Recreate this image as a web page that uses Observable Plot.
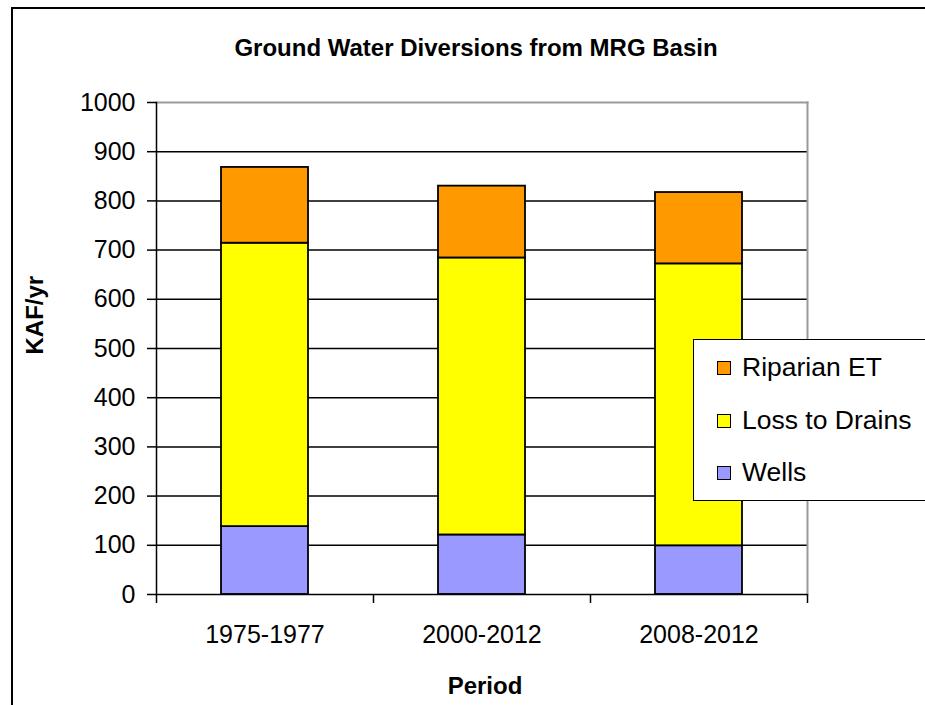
<!DOCTYPE html>
<html><head><meta charset="utf-8">
<script src="https://cdn.jsdelivr.net/npm/d3@7"></script>
<script src="https://cdn.jsdelivr.net/npm/@observablehq/plot@0.6"></script>
<style>
body{margin:0;background:#fff;}
#wrap{position:relative;width:925px;height:705px;overflow:hidden;font-family:"Liberation Sans",Arial,sans-serif;color:#000;}
#frame{position:absolute;left:11px;top:7px;width:1000px;height:1000px;border-left:2px solid #000;border-top:2px solid #000;}
#legend{position:absolute;left:693px;top:339px;width:300px;height:160px;border:1px solid #000;background:#fff;}
.item{position:absolute;left:23px;height:30px;font-size:26.5px;line-height:30px;white-space:nowrap;}
.sw{position:absolute;left:0;top:8px;width:12px;height:12px;border:1.5px solid #000;}
.lab{position:absolute;left:25px;top:-1px;}
#chart{position:absolute;left:0;top:0;}
</style></head><body>
<div id="wrap"><div id="frame"></div><div id="chart"></div><div id="legend"></div></div>
<script>
const periods = ["1975-1977", "2000-2012", "2008-2012"];
const seriesNames = ["Wells", "Loss to Drains", "Riparian ET"];
const wells = [138, 121, 99];
const lossToDrains = [576, 563, 573];
const riparianET = [154, 146, 145];
const yTicks = [0, 100, 200, 300, 400, 500, 600, 700, 800, 900, 1000];
const seriesColors = ["#9999FF", "#FFFF00", "#FF9900"];
const legendOrder = ["Riparian ET", "Loss to Drains", "Wells"];
const titleText = "Ground Water Diversions from MRG Basin";
const yLabel = "KAF/yr";
const xLabel = "Period";

const values = [wells, lossToDrains, riparianET];
const rows = [];
periods.forEach((p, i) => seriesNames.forEach((s, j) => rows.push({period: p, series: s, value: values[j][i]})));

const W = 925, H = 705, mL = 156, mR = 118, mT = 102, mB = 111;
const step = (W - mL - mR) / periods.length;
const plotH = H - mT - mB;

const chart = Plot.plot({
  width: W, height: H,
  marginLeft: mL, marginRight: mR, marginTop: mT, marginBottom: mB,
  style: {fontFamily: "Liberation Sans, Arial, sans-serif", fontSize: "25px", color: "#000", background: "transparent"},
  x: {domain: periods, paddingInner: 0.6, paddingOuter: 0.3, label: null},
  y: {domain: [0, 1000], label: null},
  color: {domain: seriesNames, range: seriesColors},
  marks: [
    Plot.gridY(yTicks.filter(d => d > 0 && d < 1000), {stroke: "#000", strokeOpacity: 1, strokeWidth: 1.5}),
    Plot.frame({anchor: "top", stroke: "#999", strokeWidth: 2}),
    Plot.frame({anchor: "right", stroke: "#999", strokeWidth: 2}),
    Plot.barY(rows, {x: "period", y: "value", fill: "series", stroke: "#000", strokeWidth: 1.8, order: seriesNames}),
    Plot.ruleY([0], {stroke: "#000", strokeWidth: 1.5}),
    Plot.frame({anchor: "left", stroke: "#000", strokeWidth: 1.5}),
    Plot.axisY({ticks: yTicks, tickSize: 9, tickPadding: 12, tickFormat: d => String(d), stroke: "#000", strokeWidth: 1.5, strokeOpacity: 1, fontSize: 25}),
    Plot.axisX({tickSize: 0, tickPadding: 31, fontSize: 25}),
    Plot.ruleX(periods, {x: d => d, dx: -step / 2, insetTop: plotH, insetBottom: -9, stroke: "#000", strokeWidth: 1.5}),
    Plot.ruleX(periods.slice(-1), {x: d => d, dx: step / 2, insetTop: plotH, insetBottom: -9, stroke: "#000", strokeWidth: 1.5}),
    Plot.text([titleText], {frameAnchor: "top", dy: -54, dx: -6, fontWeight: "bold", fontSize: 24, lineAnchor: "middle", text: d => d}),
    Plot.text([yLabel], {frameAnchor: "left", dx: -121, dy: 6, rotate: -90, fontWeight: "bold", fontSize: 24, lineAnchor: "middle", text: d => d}),
    Plot.text([xLabel], {frameAnchor: "bottom", dy: 92, dx: 3, fontWeight: "bold", fontSize: 24, lineAnchor: "middle", text: d => d})
  ]
});
document.getElementById("chart").appendChild(chart);

const color = d3.scaleOrdinal(seriesNames, seriesColors);
const legend = d3.select("#legend");
legendOrder.forEach((s, i) => {
  const it = legend.append("div").attr("class", "item").style("top", (13 + i * 52.5) + "px");
  it.append("div").attr("class", "sw").style("background", color(s));
  it.append("span").attr("class", "lab").text(s);
});
</script>
</body></html>
